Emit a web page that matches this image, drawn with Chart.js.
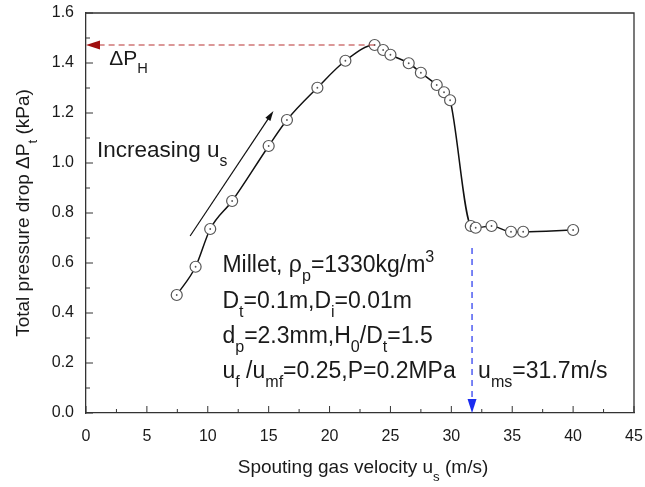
<!DOCTYPE html>
<html>
<head>
<meta charset="utf-8">
<script src="https://cdn.jsdelivr.net/npm/chart.js@4"></script>
<style>
  html, body { margin: 0; padding: 0; background: #fff; }
  #wrap { width: 645px; height: 487px; }
</style>
</head>
<body>
<div id="wrap"><canvas id="chart" width="645" height="487"></canvas></div>
<script>
// spouting gas velocity (m/s) and total pressure drop (kPa)
const velocity = [7.45, 9.0, 10.2, 12.0, 15.0, 16.5, 19.0, 21.3, 23.7, 24.4, 25.0, 26.5, 27.5, 28.8, 29.4, 29.9, 31.6, 32.0, 33.3, 34.9, 35.9, 40.0];
const pressureDrop = [0.472, 0.585, 0.736, 0.848, 1.068, 1.172, 1.301, 1.409, 1.472, 1.452, 1.433, 1.399, 1.361, 1.312, 1.283, 1.251, 0.748, 0.741, 0.748, 0.725, 0.725, 0.732];

const xTicks = [0, 5, 10, 15, 20, 25, 30, 35, 40, 45];
const yTicks = [0.0, 0.2, 0.4, 0.6, 0.8, 1.0, 1.2, 1.4, 1.6];

// annotation anchors (data units)
const peakPoint = [23.7, 1.472];       // ΔP_H
const umsArrow = [31.7, 0.66];         // u_ms = 31.7 m/s
const increasingArrow = [[8.55, 0.708], [15.39, 1.208]];

const FONT = "'Liberation Sans', Arial, sans-serif";

// draw text with sub/superscript pieces: parts = [[text, 'sub'|'sup'|null], ...]
function richText(ctx, x, y, parts, size, color) {
  ctx.save();
  ctx.fillStyle = color || "#1a1a1a";
  ctx.textBaseline = "alphabetic";
  ctx.textAlign = "left";
  let cx = x;
  parts.forEach(([t, kind]) => {
    const s = kind ? size * 0.7 : size;
    const dy = kind === "sub" ? size * 0.4 : kind === "sup" ? -size * 0.42 : 0;
    ctx.font = s + "px " + FONT;
    ctx.fillText(t, cx, y + dy);
    cx += ctx.measureText(t).width;
  });
  ctx.restore();
  return cx;
}

function richWidth(ctx, parts, size) {
  let w = 0;
  parts.forEach(([t, kind]) => {
    ctx.font = (kind ? size * 0.7 : size) + "px " + FONT;
    w += ctx.measureText(t).width;
  });
  return w;
}

function arrowHead(ctx, x, y, angle, len, half, color) {
  ctx.save();
  ctx.translate(x, y);
  ctx.rotate(angle);
  ctx.fillStyle = color;
  ctx.beginPath();
  ctx.moveTo(0, 0);
  ctx.lineTo(-len, -half);
  ctx.lineTo(-len, half);
  ctx.closePath();
  ctx.fill();
  ctx.restore();
}

const decorations = {
  id: "decorations",
  afterDatasetsDraw(chart) {
    const { ctx, chartArea: a, scales: { x, y } } = chart;
    ctx.save();

    // frame (top and right sides)
    ctx.strokeStyle = "#333";
    ctx.lineWidth = 1.3;
    ctx.beginPath();
    ctx.moveTo(a.left, a.top);
    ctx.lineTo(a.right, a.top);
    ctx.lineTo(a.right, a.bottom);
    ctx.stroke();

    // inward ticks
    ctx.lineWidth = 1;
    for (let v = 0; v <= 45; v += 2.5) {
      const px = x.getPixelForValue(v);
      const major = v % 5 === 0;
      ctx.beginPath();
      ctx.moveTo(px, a.bottom);
      ctx.lineTo(px, a.bottom - (major ? 7 : 4));
      ctx.stroke();
    }
    for (let i = 0; i <= 16; i++) {
      const v = i / 10;
      const py = y.getPixelForValue(v);
      const major = i % 2 === 0;
      ctx.beginPath();
      ctx.moveTo(a.left, py);
      ctx.lineTo(a.left + (major ? 7 : 4), py);
      ctx.stroke();
    }

    // red dashed line for ΔP_H
    const ry = y.getPixelForValue(peakPoint[1]);
    const rx = x.getPixelForValue(peakPoint[0]);
    ctx.strokeStyle = "#b83232";
    ctx.lineWidth = 1.2;
    ctx.setLineDash([6, 4]);
    ctx.beginPath();
    ctx.moveTo(rx, ry);
    ctx.lineTo(a.left + 12, ry);
    ctx.stroke();
    ctx.setLineDash([]);
    arrowHead(ctx, a.left, ry, Math.PI, 14, 4.5, "#a01010");

    // blue dashed line for u_ms
    const bx = x.getPixelForValue(umsArrow[0]);
    const by = y.getPixelForValue(umsArrow[1]);
    ctx.strokeStyle = "#2233ee";
    ctx.setLineDash([6, 5]);
    ctx.beginPath();
    ctx.moveTo(bx, by);
    ctx.lineTo(bx, a.bottom - 12);
    ctx.stroke();
    ctx.setLineDash([]);
    arrowHead(ctx, bx, a.bottom, Math.PI / 2, 14, 4.5, "#1a2cf0");

    // "increasing" arrow
    const [p0, p1] = increasingArrow;
    const x0 = x.getPixelForValue(p0[0]), y0 = y.getPixelForValue(p0[1]);
    const x1 = x.getPixelForValue(p1[0]), y1 = y.getPixelForValue(p1[1]);
    const ang = Math.atan2(y1 - y0, x1 - x0);
    ctx.strokeStyle = "#111";
    ctx.lineWidth = 1.2;
    ctx.beginPath();
    ctx.moveTo(x0, y0);
    ctx.lineTo(x1 - 8 * Math.cos(ang), y1 - 8 * Math.sin(ang));
    ctx.stroke();
    arrowHead(ctx, x1, y1, ang, 10, 3, "#111");

    // text annotations
    richText(ctx, x.getPixelForValue(1.9), y.getPixelForValue(1.392),
      [["\u0394P", null], ["H", "sub"]], 21);
    richText(ctx, x.getPixelForValue(0.9), y.getPixelForValue(1.024),
      [["Increasing u", null], ["s", "sub"]], 22.5);

    const bx0 = x.getPixelForValue(11.2);
    const fs = 23;
    richText(ctx, bx0, y.getPixelForValue(0.565),
      [["Millet, \u03C1", null], ["p", "sub"], ["=1330kg/m", null], ["3", "sup"]], fs);
    richText(ctx, bx0, y.getPixelForValue(0.42),
      [["D", null], ["t", "sub"], ["=0.1m,D", null], ["i", "sub"], ["=0.01m", null]], fs);
    richText(ctx, bx0, y.getPixelForValue(0.28),
      [["d", null], ["p", "sub"], ["=2.3mm,H", null], ["0", "sub"], ["/D", null], ["t", "sub"], ["=1.5", null]], fs);
    richText(ctx, bx0, y.getPixelForValue(0.14),
      [["u", null], ["f", "sub"], [" /u", null], ["mf", "sub"], ["=0.25,P=0.2MPa", null]], fs);
    richText(ctx, x.getPixelForValue(32.2), y.getPixelForValue(0.14),
      [["u", null], ["ms", "sub"], ["=31.7m/s", null]], fs);

    // axis titles
    const xt = [["Spouting gas velocity u", null], ["s", "sub"], [" (m/s)", null]];
    const xw = richWidth(ctx, xt, 19);
    richText(ctx, (a.left + a.right) / 2 - xw / 2 + 3, 473, xt, 19);

    const yt = [["Total pressure drop \u0394P", null], ["t", "sub"], [" (kPa)", null]];
    const yw = richWidth(ctx, yt, 19);
    ctx.save();
    ctx.translate(29, (a.top + a.bottom) / 2);
    ctx.rotate(-Math.PI / 2);
    richText(ctx, -yw / 2, 0, yt, 19);
    ctx.restore();

    ctx.restore();
  }
};

const points = velocity.map((v, i) => ({ x: v, y: pressureDrop[i] }));

new Chart(document.getElementById("chart"), {
  type: "scatter",
  data: {
    datasets: [
      {
        label: "centre dots",
        data: points,
        pointRadius: 0.9,
        pointBackgroundColor: "#555",
        pointBorderWidth: 0,
        showLine: false,
        order: 0
      },
      {
        label: "Total pressure drop",
        data: points,
        showLine: true,
        borderColor: "#111",
        borderWidth: 1.5,
        cubicInterpolationMode: "monotone",
        pointRadius: 5.5,
        pointBorderWidth: 1.2,
        pointBorderColor: "#555",
        pointBackgroundColor: "#fff",
        order: 1
      }
    ]
  },
  options: {
    responsive: false,
    animation: false,
    layout: { padding: { left: 0, right: 11, top: 13, bottom: 0 } },
    plugins: {
      legend: { display: false },
      tooltip: { enabled: false }
    },
    scales: {
      x: {
        type: "linear",
        min: 0,
        max: 45,
        afterFit: s => { s.height = 74; s.paddingLeft = 0; s.paddingRight = 0; },
        afterBuildTicks: s => { s.ticks = xTicks.map(v => ({ value: v })); },
        grid: { display: false, drawTicks: false },
        border: { display: true, color: "#333", width: 1.3 },
        ticks: {
          padding: 14,
          color: "#1a1a1a",
          font: { family: FONT, size: 16 },
          maxRotation: 0
        }
      },
      y: {
        min: 0,
        max: 1.6,
        afterFit: s => { s.width = 86; s.paddingTop = 0; s.paddingBottom = 0; },
        afterBuildTicks: s => { s.ticks = yTicks.map(v => ({ value: v })); },
        grid: { display: false, drawTicks: false },
        border: { display: true, color: "#333", width: 1.3 },
        ticks: {
          padding: 12,
          color: "#1a1a1a",
          font: { family: FONT, size: 16 },
          callback: v => v.toFixed(1)
        }
      }
    }
  },
  plugins: [decorations]
});
</script>
</body>
</html>
